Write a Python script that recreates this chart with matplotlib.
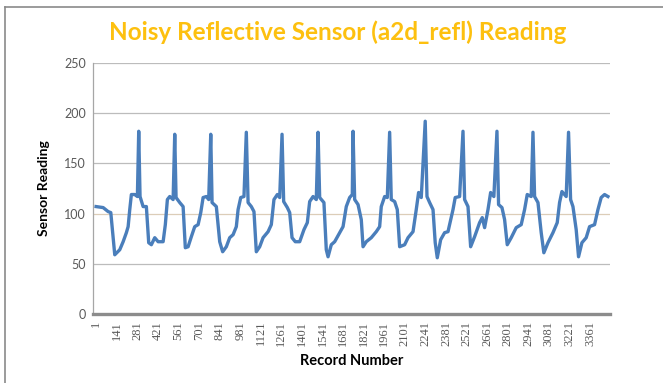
import matplotlib
matplotlib.use("Agg")
import matplotlib.pyplot as plt
from matplotlib.lines import Line2D

# a2d_refl readings, (record number, value) pairs picked along the trace
records = [1, 49, 83, 101, 128, 162, 185, 207, 219, 230, 241, 264, 282, 291, 300,
           321, 343, 359, 377, 400, 423, 457, 472, 486, 502, 525, 536, 545, 570,
           593, 608, 627, 649, 672, 695, 713, 729, 751, 767, 781, 790, 819, 842,
           862, 887, 910, 933, 955, 967, 985, 1007, 1023, 1035, 1057, 1075, 1091,
           1114, 1137, 1171, 1193, 1211, 1234, 1250, 1266, 1277, 1302, 1318, 1334,
           1356, 1386, 1415, 1438, 1454, 1477, 1499, 1511, 1522, 1551, 1567, 1579,
           1601, 1624, 1658, 1681, 1703, 1726, 1744, 1749, 1760, 1783, 1805, 1817,
           1839, 1873, 1907, 1930, 1941, 1964, 1982, 1998, 2009, 2032, 2050, 2066,
           2100, 2123, 2157, 2179, 2195, 2213, 2240, 2252, 2270, 2293, 2308, 2322,
           2345, 2372, 2395, 2429, 2444, 2474, 2497, 2508, 2531, 2549, 2576, 2610,
           2628, 2644, 2667, 2685, 2707, 2728, 2739, 2762, 2780, 2798, 2825, 2859,
           2893, 2916, 2934, 2961, 2973, 2984, 3007, 3029, 3047, 3075, 3109, 3138,
           3154, 3170, 3199, 3215, 3229, 3245, 3267, 3283, 3306, 3335, 3358, 3392,
           3415, 3437, 3460, 3483]
readings = [107, 106, 102, 101, 59, 64, 72, 81, 87, 104, 119, 119, 117, 182, 117,
            107, 107, 71, 69, 76, 72, 72, 89, 114, 117, 114, 179, 116, 111,
            107, 66, 67, 77, 87, 89, 101, 116, 117, 114, 179, 111, 107, 72,
            62, 67, 76, 79, 87, 104, 116, 117, 181, 111, 107, 102, 62,
            67, 76, 82, 89, 114, 119, 116, 179, 112, 106, 101, 76,
            72, 72, 84, 91, 112, 117, 114, 181, 116, 111, 64, 57,
            69, 72, 81, 87, 107, 116, 119, 182, 114, 109, 94, 67,
            72, 76, 82, 87, 107, 117, 116, 181, 114, 112, 104, 67,
            69, 76, 82, 104, 121, 116, 192, 117, 111, 104, 71, 56,
            74, 81, 82, 104, 116, 117, 182, 114, 107, 67, 77, 91,
            96, 86, 104, 121, 117, 182, 109, 106, 94, 69, 76, 86,
            89, 104, 119, 117, 181, 117, 111, 81, 61, 71, 81, 91,
            111, 122, 117, 181, 114, 107, 84, 57, 71, 76, 87, 89,
            104, 116, 119, 117]

tick_records = list(range(1, 3362, 140))
y_ticks = [0, 50, 100, 150, 200, 250]

sans = ['Lato', 'DejaVu Sans']
label_grey = '#595959'

fig = plt.figure(figsize=(6.63, 3.83), dpi=100)
ax = fig.add_axes([93 / 663, 69 / 383, 517 / 663, 251 / 383])

ax.plot(records, readings, color='#4a7ebb', linewidth=2.4, solid_joinstyle='round')

ax.set_xlim(-20, 3497)
ax.set_ylim(0, 250)
ax.set_yticks(y_ticks)
ax.set_xticks(tick_records)
ax.set_xticklabels([str(t) for t in tick_records], rotation=90,
                   family='Liberation Serif', fontsize=9, color=label_grey)
ax.set_yticklabels([str(t) for t in y_ticks], family=sans, fontsize=9,
                   color=label_grey)
ax.tick_params(axis='both', length=0, pad=5)

# horizontal gridlines, the 100 line has a faint tan tint
for v in y_ticks[1:]:
    if v == 100:
        ax.axhline(v, color='#dccdb8', linewidth=0.9, zorder=0)
    else:
        ax.axhline(v, color='#bcbcbc', linewidth=0.9, zorder=0)

for side in ('top', 'right'):
    ax.spines[side].set_visible(False)
ax.spines['left'].set_color('#a6a6a6')
ax.spines['left'].set_linewidth(0.9)
ax.spines['bottom'].set_color('#8c8c8c')
ax.spines['bottom'].set_linewidth(2.4)

ax.set_ylabel('Sensor Reading', family=sans, fontsize=10, fontweight='bold', labelpad=10)
ax.set_xlabel('Record Number', family=sans, fontsize=10.5, fontweight='bold', labelpad=6)

fig.text(0.51, 0.916, 'Noisy Reflective Sensor (a2d_refl) Reading',
         ha='center', va='center', family=sans, fontsize=17.5, fontweight='bold',
         color='#fdc00f')

# chart-area frame (only top and left edges are in view)
fig.add_artist(Line2D([5 / 663, 5 / 663], [0, 1 - 7 / 383], transform=fig.transFigure,
                      color='#8a8a8a', linewidth=1.2))
fig.add_artist(Line2D([5 / 663, 1], [1 - 7 / 383, 1 - 7 / 383], transform=fig.transFigure,
                      color='#8a8a8a', linewidth=1.2))

fig.savefig('out.png', dpi=100)
